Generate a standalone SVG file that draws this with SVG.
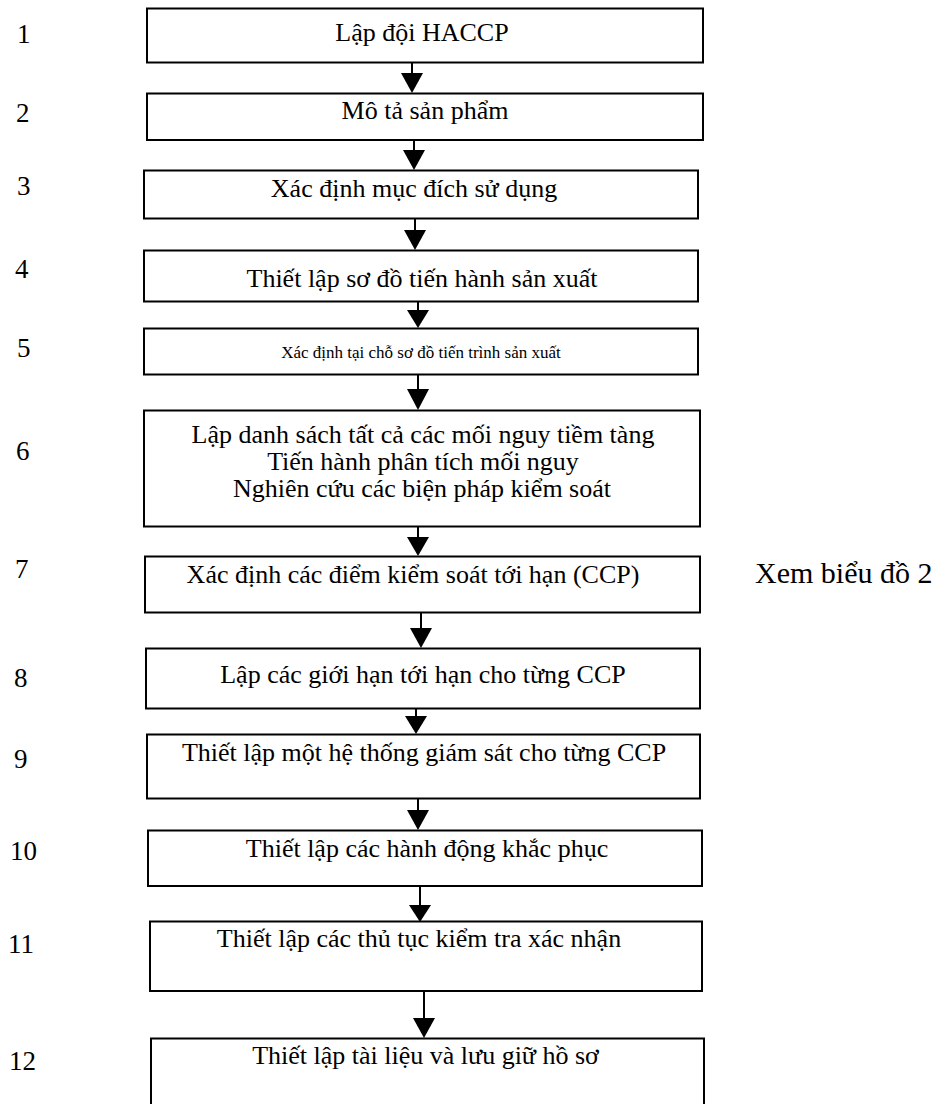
<svg xmlns="http://www.w3.org/2000/svg" width="944" height="1104" viewBox="0 0 944 1104">
<style>
.box{fill:#fff;stroke:#000;stroke-width:2}
.t{font-family:"Liberation Serif","Times New Roman",serif;font-size:26px;fill:#000;text-anchor:middle}
.s{font-size:17px}
.n{font-family:"Liberation Serif","Times New Roman",serif;font-size:27px;fill:#000}
.ln{stroke:#000;stroke-width:2;fill:none}
.ah{fill:#000}
</style>
<rect width="944" height="1104" fill="#fff"/>
<g id="labels">
<text class="n" x="17" y="43">1</text>
<text class="n" x="16" y="122">2</text>
<text class="n" x="17" y="195">3</text>
<text class="n" x="15" y="278">4</text>
<text class="n" x="17" y="357">5</text>
<text class="n" x="16" y="460">6</text>
<text class="n" x="15" y="578">7</text>
<text class="n" x="14" y="687">8</text>
<text class="n" x="14" y="768">9</text>
<text class="n" x="10" y="860">10</text>
<text class="n" x="8" y="953">11</text>
<text class="n" x="9" y="1070">12</text>
</g>
<g id="connectors">
<line class="ln" x1="412" y1="62" x2="412" y2="76"/><polygon class="ah" points="401,73 423,73 412,93"/>
<line class="ln" x1="414" y1="140" x2="414" y2="153"/><polygon class="ah" points="403,150 425,150 414,170"/>
<line class="ln" x1="415" y1="218" x2="415" y2="233"/><polygon class="ah" points="404,230 426,230 415,250"/>
<line class="ln" x1="418" y1="301" x2="418" y2="314"/><polygon class="ah" points="407,310 429,310 418,328"/>
<line class="ln" x1="418" y1="374" x2="418" y2="391"/><polygon class="ah" points="407,389 429,389 418,410"/>
<line class="ln" x1="418" y1="526" x2="418" y2="540"/><polygon class="ah" points="407,537 429,537 418,556"/>
<line class="ln" x1="421" y1="612" x2="421" y2="631"/><polygon class="ah" points="410,628 432,628 421,648"/>
<line class="ln" x1="416" y1="708" x2="416" y2="719"/><polygon class="ah" points="405,716 427,716 416,734"/>
<line class="ln" x1="418" y1="798" x2="418" y2="813"/><polygon class="ah" points="407,810 429,810 418,830"/>
<line class="ln" x1="420" y1="886" x2="420" y2="908"/><polygon class="ah" points="409,905 431,905 420,922"/>
<line class="ln" x1="424" y1="991" x2="424" y2="1021"/><polygon class="ah" points="413,1018 435,1018 424,1038"/>
</g>
<g id="n1"><rect class="box" x="147" y="8.5" width="556" height="54"/><text class="t" x="422" y="41">Lập đội HACCP</text></g>
<g id="n2"><rect class="box" x="147" y="93.5" width="556" height="46.5"/><text class="t" x="425" y="119">Mô tả sản phẩm</text></g>
<g id="n3"><rect class="box" x="144" y="170.5" width="554" height="48"/><text class="t" x="414" y="197">Xác định mục đích sử dụng</text></g>
<g id="n4"><rect class="box" x="144" y="250.5" width="554" height="51"/><text class="t" x="422" y="287">Thiết lập sơ đồ tiến hành sản xuất</text></g>
<g id="n5"><rect class="box" x="144" y="328.5" width="554" height="46"/><text class="t s" x="421" y="358">Xác định tại chỗ sơ đồ tiến trình sản xuất</text></g>
<g id="n6"><rect class="box" x="144" y="410.5" width="556" height="116"/>
<text class="t" x="423" y="443">Lập danh sách tất cả các mối nguy tiềm tàng</text>
<text class="t" x="423" y="470">Tiến hành phân tích mối nguy</text>
<text class="t" x="422" y="497">Nghiên cứu các biện pháp kiểm soát</text></g>
<g id="n7"><rect class="box" x="145" y="556.5" width="555" height="56"/><text class="t" x="413" y="583">Xác định các điểm kiểm soát tới hạn (CCP)</text></g>
<g id="note"><text class="n" x="755" y="583" style="font-size:30px">Xem biểu đồ 2</text></g>
<g id="n8"><rect class="box" x="146" y="648.5" width="554" height="60"/><text class="t" x="423" y="683">Lập các giới hạn tới hạn cho từng CCP</text></g>
<g id="n9"><rect class="box" x="147" y="734.5" width="553" height="64"/><text class="t" x="424" y="761">Thiết lập một hệ thống giám sát cho từng CCP</text></g>
<g id="n10"><rect class="box" x="148" y="830.5" width="554" height="55.5"/><text class="t" x="427" y="857">Thiết lập các hành động khắc phục</text></g>
<g id="n11"><rect class="box" x="150" y="921.5" width="552" height="69.5"/><text class="t" x="419" y="947">Thiết lập các thủ tục kiểm tra xác nhận</text></g>
<g id="n12"><rect class="box" x="151" y="1038.5" width="553" height="80"/><text class="t" x="425.5" y="1064">Thiết lập tài liệu và lưu giữ hồ sơ</text></g>
</svg>
